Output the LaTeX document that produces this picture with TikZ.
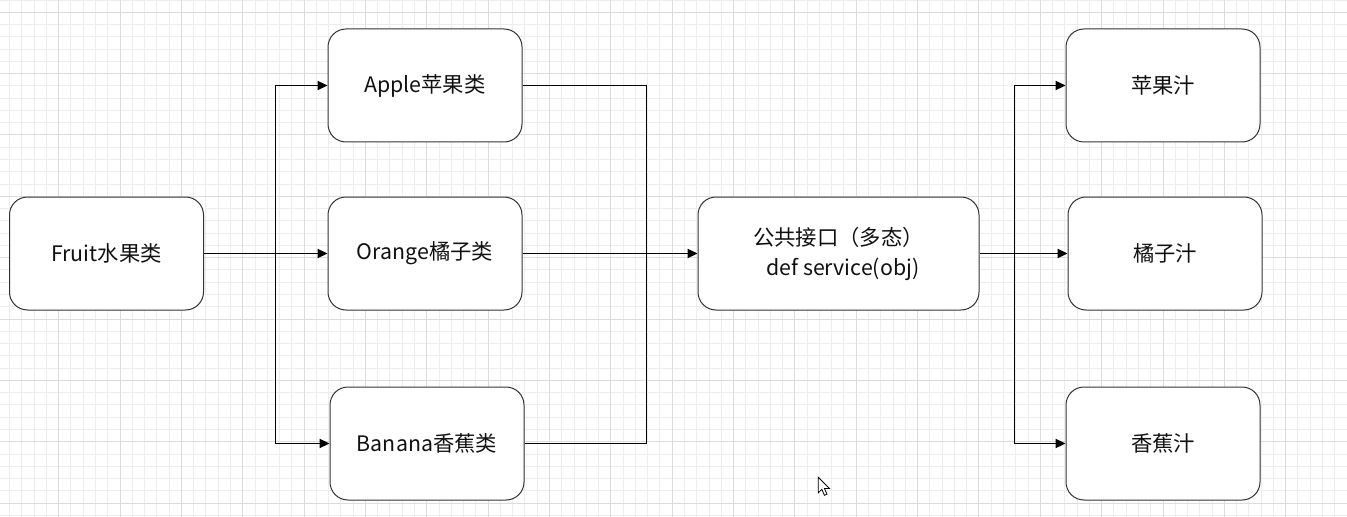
\documentclass[tikz,border=0pt]{standalone}
\usepackage{fontspec}
\setmainfont{Noto Sans CJK SC}
\usetikzlibrary{arrows.meta}
\definecolor{minorgrid}{HTML}{EDEDED}
\definecolor{majorgrid}{HTML}{DCDCDC}
\definecolor{boxline}{HTML}{333333}
\definecolor{txt}{HTML}{111111}
\begin{document}
\begin{tikzpicture}[x=0.75pt,y=-0.75pt,
  box/.style={draw=boxline, line width=0.75pt, rounded corners=13.5pt, fill=white,
    inner sep=0pt, minimum width=145.5pt, minimum height=84.75pt,
    font=\fontsize{16pt}{22.5pt}\selectfont, text=txt, align=center},
  conn/.style={draw=black, line width=0.75pt},
  arr/.style={conn, -{Triangle[length=7.5pt,width=7pt]}},
  minorline/.style={draw=minorgrid, line width=0.75pt},
  majorline/.style={draw=majorgrid, line width=0.75pt}]
\useasboundingbox (0,0) rectangle (1347,517);
\fill[white] (0,0) rectangle (1347,517);
% grid
\foreach \i in {-5,...,106} {
  \draw[minorline] ({58.7+\i*12.27},0) -- ({58.7+\i*12.27},517);
}
\foreach \i in {-1,...,41} {
  \draw[minorline] (0,{12.3+\i*12.27}) -- (1347,{12.3+\i*12.27});
}
\foreach \i in {-1,...,21} {
  \draw[majorline] ({58.7+\i*61.35},0) -- ({58.7+\i*61.35},517);
}
\foreach \i in {0,...,8} {
  \draw[majorline] (0,{12.3+\i*61.35}) -- (1347,{12.3+\i*61.35});
}
% nodes
\node[box] (fruit) at (106.5,253.5) {Fruit水果类};
\node[box] (apple) at (425,85.5) {Apple苹果类};
\node[box] (orange) at (425,253.5) {Orange橘子类};
\node[box] (banana) at (427,443.5) {Banana香蕉类};
\node[box, minimum width=210.75pt] (iface) at (838.5,253.5) {公共接口（多态）\\ \hspace*{0.4em}def service(obj)};
\node[box] (aj) at (1163,85.5) {苹果汁};
\node[box] (oj) at (1165,253.5) {橘子汁};
\node[box] (bj) at (1163,443.5) {香蕉汁};
\coordinate (j1) at (275,253.5);
\coordinate (j2) at (646,253.5);
\coordinate (j3) at (1014,253.5);
% connectors
\draw[arr] (fruit.east) -- (orange.west);
\draw[arr] (j1) |- (apple.west);
\draw[arr] (j1) |- (banana.west);
\draw[conn] (apple.east) -| (j2);
\draw[conn] (banana.east) -| (j2);
\draw[arr] (orange.east) -- (iface.west);
\draw[arr] (iface.east) -- (oj.west);
\draw[arr] (j3) |- (aj.west);
\draw[arr] (j3) |- (bj.west);
% mouse pointer
\draw[fill=white, line width=0.6pt, line join=miter] (818.3,477.3) -- ++(0,15.5) -- ++(3.5,-3.5) -- ++(2.6,6) -- ++(2.6,-1.1) -- ++(-2.6,-5.8) -- ++(5,0) -- cycle;
\end{tikzpicture}
\end{document}
